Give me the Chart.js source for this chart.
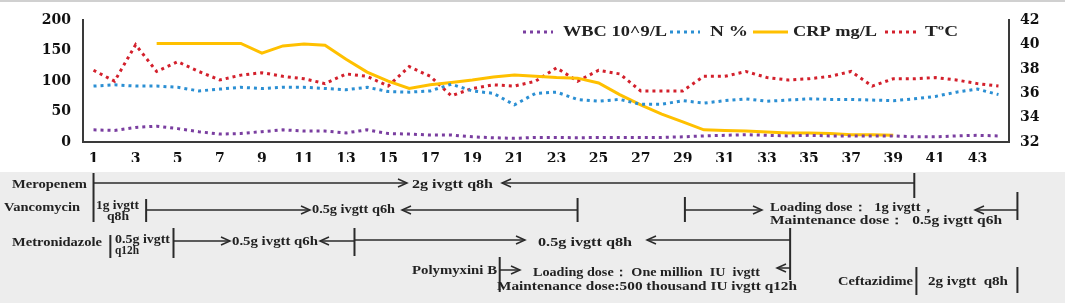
<!DOCTYPE html>
<html>
<head>
<meta charset="utf-8">
<script src="https://cdn.jsdelivr.net/npm/chart.js@4.4.0/dist/chart.umd.min.js"></script>
<style>
  html, body { margin: 0; padding: 0; background: #fff; }
  #wrap { width: 1065px; height: 303px; }
</style>
</head>
<body>
<div id="wrap"><canvas id="chart" width="1065" height="303"></canvas></div>
<script>
// Hospital days on the x axis
const days = [1, 2, 3, 4, 5, 6, 7, 8, 9, 10, 11, 12, 13, 14, 15, 16, 17, 18, 19, 20, 21, 22,
  23, 24, 25, 26, 27, 28, 29, 30, 31, 32, 33, 34, 35, 36, 37, 38, 39, 40, 41, 42, 43, 44];

// Lab values (left axis)
const wbc = [20, 19, 24, 26, 22, 17, 13, 14, 17, 20, 18, 18, 15, 20, 14, 13, 11.5, 11.5, 8.5, 7, 6, 7.5,
  7.5, 7, 7.5, 7.5, 7.5, 7.5, 8.5, 10, 11, 12, 11, 10, 11, 10, 10, 10, 10, 8.5, 8.5, 10, 11, 10];
const neut = [92, 94, 92, 92, 90, 84, 87, 90, 88, 90, 90, 88, 86, 90, 83, 82, 84, 95, 84, 80, 61, 80,
  82, 70, 67, 70, 62, 62, 68, 64, 68, 71, 67, 69, 71, 70, 70, 69, 68, 71, 75, 82, 87, 78];
const crp = [null, null, null, 162, 162, 162, 162, 162, 146, 158, 161, 159, 136, 115, 100, 88, 94, 98,
  102, 107, 110, 108, 106, 105, 97, 78, 61, 46, 33, 20, 19, 18, 16.5, 15, 15, 14, 12, 12, 11,
  null, null, null, null, null];
// Body temperature (right axis)
const temp = [37.9, 37.0, 40.0, 37.8, 38.6, 37.8, 37.1, 37.5, 37.7, 37.4, 37.2, 36.8, 37.6, 37.4, 36.6,
  38.2, 37.4, 35.8, 36.4, 36.7, 36.6, 37.0, 38.1, 37.0, 37.9, 37.6, 36.2, 36.2, 36.2, 37.4, 37.4,
  37.8, 37.3, 37.1, 37.2, 37.4, 37.8, 36.6, 37.2, 37.2, 37.3, 37.1, 36.8, 36.6];

// Drug timeline, in days
const meropenemSpan = [1, 40];
const vancomycinSpans = [[1, 3.5], [3.5, 24], [29.1, 44.9]];
const metronidazoleSpans = [[1.8, 4.8], [4.8, 13.4], [13.4, 34.1]];
const polymyxinSpan = [20.3, 34.1];
const ceftazidimeSpan = [40.1, 44.9];

const PURPLE = '#7a3ea0';
const BLUE = '#2b8fd3';
const YELLOW = '#ffc000';
const RED = '#d3202c';
const INK = '#222222';
const tickFont = { family: '"DejaVu Serif"', size: 14, weight: 'bold' };

// text squeezed/stretched to the width it has in the figure
function stext(ctx, s, x1, x2, y, size) {
  ctx.font = 'bold ' + size + 'px "Liberation Serif"';
  const w = ctx.measureText(s).width;
  ctx.save();
  ctx.translate(x1, y);
  ctx.scale((x2 - x1) / w, 1);
  ctx.textAlign = 'left';
  ctx.textBaseline = 'middle';
  ctx.fillStyle = INK;
  ctx.fillText(s, 0, 0);
  ctx.restore();
}

const panelPlugin = {
  id: 'panel',
  beforeDraw(chart) {
    const ctx = chart.ctx;
    ctx.save();
    ctx.fillStyle = '#ffffff';
    ctx.fillRect(0, 0, chart.width, chart.height);
    ctx.fillStyle = '#ededed';
    ctx.fillRect(0, 172, chart.width, chart.height - 172);
    ctx.fillStyle = '#d0d0d0';
    ctx.fillRect(0, 0, chart.width, 2);
    ctx.restore();
  },
  afterDraw(chart) {
    const ctx = chart.ctx;
    const xs = chart.scales.x;
    const px = d => xs.getPixelForValue(d - 1);

    // legend, drawn inside the plot like the original
    const slots = [[523, 553, 563, 667], [670, 700, 710, 748], [753, 788, 793, 877], [885, 917, 925, 958]];
    chart.data.datasets.forEach((ds, i) => {
      const s = slots[i];
      ctx.save();
      ctx.strokeStyle = ds.borderColor;
      ctx.lineWidth = ds.borderWidth;
      ctx.setLineDash(ds.borderDash || []);
      ctx.beginPath();
      ctx.moveTo(s[0], 32);
      ctx.lineTo(s[1], 32);
      ctx.stroke();
      ctx.restore();
      stext(ctx, ds.label, s[2], s[3], 32, 15);
    });

    ctx.save();
    ctx.strokeStyle = '#2a2a2a';
    const vbar = (x, y1, y2) => {
      ctx.lineWidth = 2;
      ctx.beginPath(); ctx.moveTo(x, y1); ctx.lineTo(x, y2); ctx.stroke();
    };
    const hline = (x1, x2, y) => {
      ctx.lineWidth = 1.5;
      ctx.beginPath(); ctx.moveTo(x1, y); ctx.lineTo(x2, y); ctx.stroke();
    };
    const head = (x, y, dir) => {
      ctx.lineWidth = 1.5;
      ctx.beginPath();
      ctx.moveTo(x - dir * 9, y - 4);
      ctx.lineTo(x, y);
      ctx.lineTo(x - dir * 9, y + 4);
      ctx.stroke();
    };

    // Meropenem
    stext(ctx, 'Meropenem', 12, 87, 185, 12);
    vbar(px(meropenemSpan[0]), 173, 222);
    hline(px(meropenemSpan[0]), 407, 183); head(407, 183, 1);
    stext(ctx, '2g ivgtt q8h', 412, 493, 185, 12);
    head(502, 183, -1); hline(502, px(meropenemSpan[1]), 183);
    vbar(px(meropenemSpan[1]), 173, 198);

    // Vancomycin
    stext(ctx, 'Vancomycin', 4, 80, 208, 12);
    stext(ctx, '1g ivgtt', 96, 139, 206, 12);
    stext(ctx, 'q8h', 107, 129, 217, 12);
    vbar(px(vancomycinSpans[1][0]), 199, 222);
    hline(px(vancomycinSpans[1][0]), 310, 210); head(310, 210, 1);
    stext(ctx, '0.5g ivgtt q6h', 312, 395, 210, 12);
    head(402, 210, -1); hline(402, px(vancomycinSpans[1][1]), 210);
    vbar(px(vancomycinSpans[1][1]), 198, 222);
    vbar(px(vancomycinSpans[2][0]), 197, 222);
    hline(px(vancomycinSpans[2][0]), 762, 210); head(762, 210, 1);
    stext(ctx, 'Loading dose：  1g ivgtt，', 770, 935, 208, 12);
    stext(ctx, 'Maintenance dose：  0.5g ivgtt q6h', 770, 1002, 221, 12);
    head(975, 210, -1); hline(975, px(vancomycinSpans[2][1]), 210);
    vbar(px(vancomycinSpans[2][1]), 192, 220);

    // Metronidazole
    stext(ctx, 'Metronidazole', 12, 102, 243, 12);
    vbar(px(metronidazoleSpans[0][0]), 235, 258);
    stext(ctx, '0.5g ivgtt', 115, 170, 240, 12);
    stext(ctx, 'q12h', 115, 139, 251, 12);
    vbar(px(metronidazoleSpans[1][0]), 228, 258);
    hline(px(metronidazoleSpans[1][0]), 230, 241); head(230, 241, 1);
    stext(ctx, '0.5g ivgtt q6h', 232, 318, 242, 12);
    head(320, 241, -1); hline(320, px(metronidazoleSpans[2][0]), 241);
    vbar(px(metronidazoleSpans[2][0]), 228, 256);
    hline(px(metronidazoleSpans[2][0]), 525, 240); head(525, 240, 1);
    stext(ctx, '0.5g ivgtt q8h', 538, 632, 243, 12);
    head(647, 240, -1); hline(647, px(metronidazoleSpans[2][1]), 240);
    vbar(px(metronidazoleSpans[2][1]), 228, 280);

    // Polymyxin B
    stext(ctx, 'Polymyxini B', 412, 497, 271, 12);
    vbar(px(polymyxinSpan[0]), 257, 292);
    hline(px(polymyxinSpan[0]), 520, 270); head(520, 270, 1);
    stext(ctx, 'Loading dose： One million  IU  ivgtt', 533, 760, 273, 12);
    stext(ctx, 'Maintenance dose:500 thousand IU ivgtt q12h', 497, 797, 287, 12);
    head(777, 268, -1); hline(777, px(polymyxinSpan[1]), 268);

    // Ceftazidime
    stext(ctx, 'Ceftazidime', 838, 913, 282, 12);
    vbar(px(ceftazidimeSpan[0]), 267, 295);
    stext(ctx, '2g ivgtt  q8h', 928, 1008, 282, 12);
    vbar(px(ceftazidimeSpan[1]), 267, 293);
    ctx.restore();
  }
};

const dotted = { borderDash: [3, 4], borderWidth: 3, pointRadius: 0, fill: false, tension: 0 };

new Chart(document.getElementById('chart'), {
  type: 'line',
  data: {
    labels: days,
    datasets: [
      Object.assign({ label: 'WBC 10^9/L', data: wbc, yAxisID: 'y', borderColor: PURPLE }, dotted),
      Object.assign({ label: 'N %', data: neut, yAxisID: 'y', borderColor: BLUE }, dotted),
      { label: 'CRP mg/L', data: crp, yAxisID: 'y', borderColor: YELLOW, borderWidth: 3,
        pointRadius: 0, fill: false, tension: 0 },
      Object.assign({ label: 'TºC', data: temp, yAxisID: 'y1', borderColor: RED }, dotted)
    ]
  },
  options: {
    responsive: false,
    animation: false,
    layout: { padding: { top: 17, left: 8, right: 0, bottom: 141 } },
    plugins: { legend: { display: false }, tooltip: { enabled: false } },
    scales: {
      x: {
        offset: true,
        grid: { display: false, drawTicks: false },
        border: { display: true, color: '#3a3a3a', width: 2 },
        ticks: {
          autoSkip: false, maxRotation: 0, padding: 9, color: '#111', font: tickFont,
          callback: (v, i) => (i % 2 === 0 ? days[i] : '')
        },
        afterFit: a => { a.height = 20; }
      },
      y: {
        position: 'left', min: 0, max: 200,
        grid: { display: false, drawTicks: false },
        border: { display: true, color: '#3a3a3a', width: 2 },
        ticks: { stepSize: 50, padding: 12, color: '#111', font: tickFont },
        afterFit: a => { a.width = 75; }
      },
      y1: {
        position: 'right', min: 32, max: 42,
        grid: { display: false, drawTicks: false },
        border: { display: true, color: '#3a3a3a', width: 2 },
        ticks: { stepSize: 2, padding: 11, color: '#111', font: tickFont },
        afterFit: a => { a.width = 56; }
      }
    }
  },
  plugins: [panelPlugin]
});
</script>
</body>
</html>
